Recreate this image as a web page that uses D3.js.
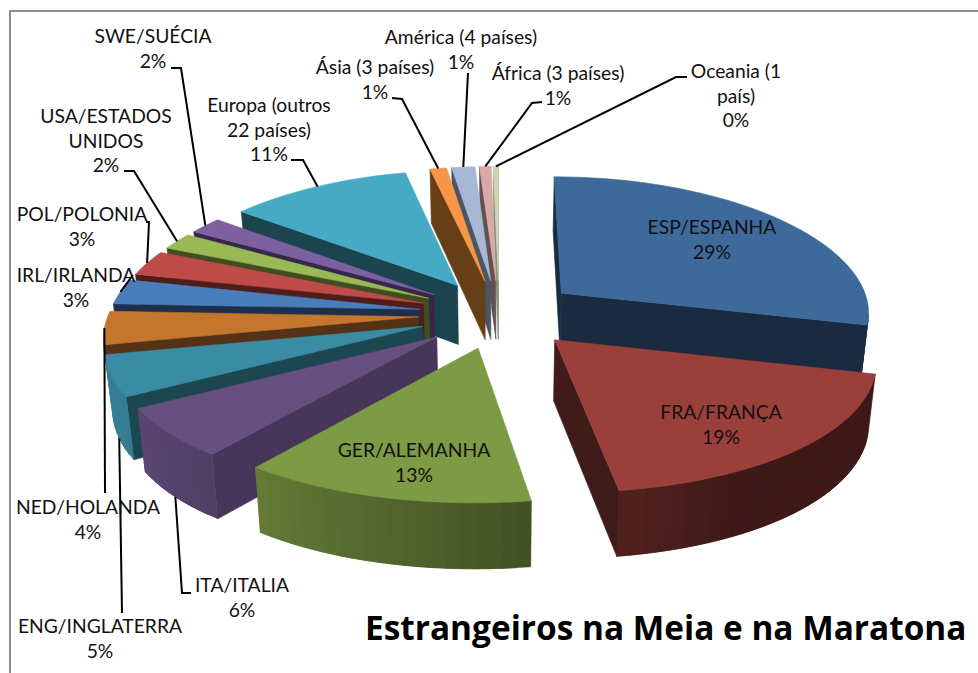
<!DOCTYPE html>
<html>
<head>
<meta charset="utf-8">
<script src="https://d3js.org/d3.v7.min.js"></script>
<style>
  body { margin: 0; background: #fff; }
  text { font-family: Lato, "Open Sans", sans-serif; fill: #111; }
</style>
</head>
<body>
<svg id="chart" width="978" height="673"></svg>
<script>
// data
let categories = ['ESP/ESPANHA', 'FRA/FRANÇA', 'GER/ALEMANHA', 'ITA/ITALIA', 'ENG/INGLATERRA',
    'NED/HOLANDA', 'IRL/IRLANDA', 'POL/POLONIA', 'USA/ESTADOS|UNIDOS', 'SWE/SUÉCIA',
    'Europa (outros|22 países)', 'Ásia (3 países)', 'América (4 países)', 'África (3 países)', 'Oceania (1|país)'];
let values = [29, 18.7, 13, 6.2, 5, 4, 3, 3, 2, 2, 11, 1, 1.4, 0.7, 0.3];
let topColors = ['#3d6a9b', '#9b3f3b', '#7d9a44', '#674f80', '#3a8ca4', '#c4762c', '#4a7ebb', '#be4b48',
    '#98b954', '#7d60a0', '#46aac4', '#f79646', '#a7b7d6', '#d9a9a8', '#c8d8b0'];
let sideColors = ['#1a2b40', '#3f1b19', '#434f25', '#46365a', '#1c4650', '#553117', '#1d2f4a', '#4f1d1c',
    '#3f4d20', '#35274a', '#1b444f', '#663f17', '#4a5566', '#655050', '#8c9080'];

// label centre x, first line centre y, leader elbows, leader end on wall (0 top, 1 bottom)
let labelLayout = [
    {x: 712, y: 228},
    {x: 721, y: 413},
    {x: 414, y: 451},
    {x: 242, y: 586, leader: [[191, 593], [182, 593]], z: 1},
    {x: 100, y: 627, leader: [[122, 613]], z: 1},
    {x: 88, y: 508, leader: [[105, 493]], z: 0},
    {x: 76, y: 276, leader: [[133, 275]], z: 0},
    {x: 82, y: 215, leader: [[146, 222], [149, 222]], z: 0},
    {x: 106, y: 117, leader: [[124, 171], [134, 171]], z: 0},
    {x: 153, y: 37, leader: [[171, 68], [181, 68]], z: 0},
    {x: 269, y: 106, leader: [[291, 160], [303, 160]], z: 0},
    {x: 375, y: 68, leader: [[392, 98], [402, 99]], z: 0},
    {x: 461, y: 38, leader: [[468, 73]], z: 0},
    {x: 558, y: 74, leader: [[542, 102], [532, 103]], z: 0},
    {x: 736, y: 72, leader: [[687, 77], [676, 77]], z: 0}
];

let svg = d3.select('#chart');

// chart frame
svg.append('path').attr('d', 'M10,673V11H978').attr('fill', 'none')
    .attr('stroke', '#8c8c8c').attr('stroke-width', 2);

// projection of the tilted pie with some perspective
let cx = 499, cy = 314, Rx = 310, Ry = 132, depth = 60, explode = 0.26;
let scaleX = d3.scaleLinear().domain([0, 1]).range([0, Rx]);
let scaleY = d3.scaleLinear().domain([0, 1]).range([0, Ry]);

function project(wx, wy, z) {
    let sx = 1 / (1 - 0.13 * wy) * (1 - 0.02 * z);
    let sy = 1 / (1 - 0.1 * wy);
    return [cx + scaleX(wx) * sx, cy + scaleY(wy) * sy + z * depth * (1 + 0.08 * wy)];
}

let pie = d3.pie().sort(null).value(d => d);
let arcs = pie(values).map((d, i) => {
    let mid = (d.startAngle + d.endAngle) / 2;
    return {i: i, a0: d.startAngle, a1: d.endAngle, mid: mid,
        ox: explode * Math.sin(mid), oy: -explode * Math.cos(mid)};
});

function rim(s, a, z) {
    return project(s.ox + Math.sin(a), s.oy - Math.cos(a), z);
}
function apex(s, z) {
    return project(s.ox, s.oy, z);
}
function facing(p) {
    let area = 0;
    p.forEach((q, k) => {
        let n = p[(k + 1) % p.length];
        area += q[0] * n[1] - n[0] * q[1];
    });
    return area;
}

let shade = d3.scaleLinear().domain([-1, 0.5]).range([0.93, 0.4]).clamp(true);
let line = d3.line();
let pieGroup = svg.append('g');

function poly(points, color) {
    pieGroup.append('path').attr('d', line(points) + 'Z')
        .attr('fill', color).attr('stroke', color).attr('stroke-width', 0.6);
}

// back slices first, the front ones paint over them
arcs.slice().sort((a, b) => (-Math.cos(a.mid)) - (-Math.cos(b.mid))).forEach(s => {
    let col = sideColors[s.i];
    let w0 = [apex(s, 0), rim(s, s.a0, 0), rim(s, s.a0, 1), apex(s, 1)];
    let w1 = [rim(s, s.a1, 0), apex(s, 0), apex(s, 1), rim(s, s.a1, 1)];
    if (facing(w0) < 0) poly(w0, col);
    if (facing(w1) < 0) poly(w1, col);

    let steps = Math.max(2, Math.ceil((s.a1 - s.a0) / 0.04));
    let angles = d3.range(steps + 1).map(k => s.a0 + (s.a1 - s.a0) * k / steps);
    let top = [apex(s, 0)];
    angles.forEach((a, k) => {
        top.push(rim(s, a, 0));
        if (k == steps) return;
        let b = angles[k + 1];
        // runs one step on under the next segment so no seams show
        let over = angles[Math.min(k + 2, steps)];
        let q = [rim(s, a, 0), rim(s, over, 0), rim(s, over, 1), rim(s, a, 1)];
        if (facing(q) < 0) {
            let f = shade(Math.sin((a + b) / 2));
            let c = d3.rgb(topColors[s.i]);
            poly(q, d3.rgb(c.r * f, c.g * f, c.b * f).formatHex());
        }
    });
    poly(top, topColors[s.i]);
});

// leader lines
let leaderLine = d3.line();
arcs.forEach(s => {
    let l = labelLayout[s.i];
    if (!l.leader) return;
    let end = rim(s, s.mid, l.z);
    svg.append('path').attr('d', leaderLine(l.leader.concat([end])))
        .attr('fill', 'none').attr('stroke', '#000').attr('stroke-width', 2);
});

// data labels
categories.forEach((name, i) => {
    let rows = name.split('|').concat([Math.round(values[i]) + '%']);
    let l = labelLayout[i];
    let t = svg.append('text').attr('text-anchor', 'middle').attr('font-size', 19.3);
    rows.forEach((r, k) => {
        t.append('tspan').attr('x', l.x).attr('y', l.y + 6 + k * 24.5).text(r);
    });
});

svg.append('text').attr('x', 365).attr('y', 640).attr('font-size', 33.4).attr('font-weight', 700)
    .style('font-family', '"Open Sans", Lato, sans-serif')
    .style('fill', '#000').text('Estrangeiros na Meia e na Maratona');
</script>
</body>
</html>
